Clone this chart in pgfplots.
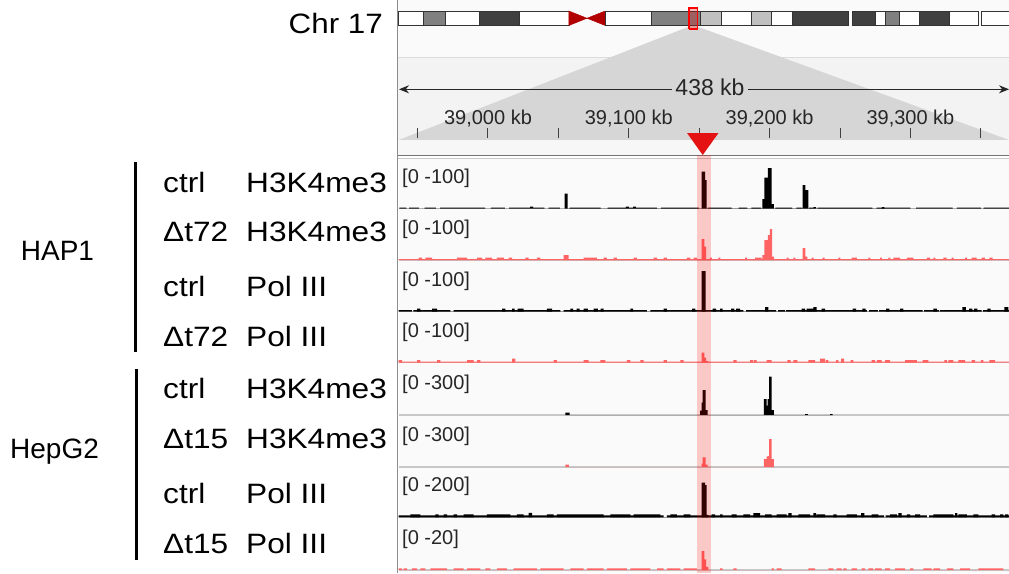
\documentclass[border=0pt]{standalone}
\usepackage{fontspec}
\setmainfont{Liberation Sans}
\usepackage{graphicx}
\usepackage{pgfplots}
\pgfplotsset{compat=1.18}
\usetikzlibrary{arrows.meta}

\definecolor{trkred}{RGB}{255,100,100}
\definecolor{cone}{RGB}{214,214,214}
\definecolor{panel}{RGB}{243,243,243}
\definecolor{trkbg}{RGB}{250,250,250}
\definecolor{bandg}{RGB}{128,128,128}
\definecolor{bandd}{RGB}{64,64,64}
\definecolor{bandl}{RGB}{192,192,192}
\definecolor{cen}{RGB}{178,0,0}
\definecolor{pointer}{RGB}{228,18,18}

\pgfplotsset{
  trk/.style={at={(398.7pt,-#1pt)}, anchor=south west, width=610.3pt, height=50pt,
    scale only axis, xmin=38936.6, xmax=39370, ymin=0, hide axis},
  bars/.style={const plot, fill=#1, draw=none, forget plot},
  band/.style={fill=#1, draw=black!80, line width=0.8pt, forget plot},
}
\tikzset{
  lab/.style={anchor=base west, inner sep=0pt, font=\fontsize{20}{24}\selectfont, text=black!85},
  row/.style={anchor=base west, inner sep=0pt, font=\fontsize{28}{32}\selectfont},
}
\newcommand\sx[1]{\scalebox{1.13}[1]{#1}}

\begin{document}
\begin{tikzpicture}[x=1pt,y=-1pt]
\useasboundingbox (0,0) rectangle (1009,573);
\fill[white] (0,0) rectangle (1009,573);

% ruler panel
\fill[black!2] (398,0) rectangle (1009,57);
\fill[panel] (398,57) rectangle (1009,155);
\draw[black!14] (398,57) -- (1009,57);
\fill[cone] (693,25) -- (398.7,140) -- (1009,140) -- cycle;
\fill[black!3] (398,140) rectangle (1009,155);

\node[anchor=base east, inner sep=0pt, font=\fontsize{28}{32}\selectfont] at (383,33) {\scalebox{1.12}[1]{Chr 17}};

% ideogram, chr17 in Mb
\begin{axis}[at={(398.7pt,-25.5pt)}, anchor=south west, width=610.3pt, height=14.5pt,
  scale only axis, xmin=0, xmax=81.2, ymin=0, ymax=1, hide axis, clip=false]
\addplot[band=white] coordinates {(0,1)(3.31,1)} \closedcycle;
\addplot[band=bandg] coordinates {(3.31,1)(6.20,1)} \closedcycle;
\addplot[band=white] coordinates {(6.20,1)(10.71,1)} \closedcycle;
\addplot[band=bandd] coordinates {(10.71,1)(16.02,1)} \closedcycle;
\addplot[band=white] coordinates {(16.02,1)(22.65,1)} \closedcycle;
\addplot[fill=cen, draw=cen] coordinates {(22.65,0)(22.65,1)(25.05,0.5)(22.65,0)};
\addplot[fill=cen, draw=cen] coordinates {(27.47,0)(27.47,1)(25.05,0.5)(27.47,0)};
\addplot[band=white] coordinates {(27.47,1)(33.62,1)} \closedcycle;
\addplot[band=bandg] coordinates {(33.62,1)(40.18,1)} \closedcycle;
\addplot[band=bandl] coordinates {(40.18,1)(42.96,1)} \closedcycle;
\addplot[band=white] coordinates {(42.96,1)(46.97,1)} \closedcycle;
\addplot[band=bandl] coordinates {(46.97,1)(49.59,1)} \closedcycle;
\addplot[band=white] coordinates {(49.59,1)(52.32,1)} \closedcycle;
\addplot[band=bandd] coordinates {(52.32,1)(59.89,1)} \closedcycle;
\addplot[band=bandd] coordinates {(60.30,1)(63.45,1)} \closedcycle;
\addplot[band=white] coordinates {(63.45,1)(64.82,1)} \closedcycle;
\addplot[band=bandg] coordinates {(64.82,1)(66.61,1)} \closedcycle;
\addplot[band=white] coordinates {(66.61,1)(69.23,1)} \closedcycle;
\addplot[band=bandd] coordinates {(69.23,1)(73.33,1)} \closedcycle;
\addplot[band=white] coordinates {(73.33,1)(77.12,1)} \closedcycle;
\addplot[band=white] coordinates {(77.47,1)(81.2,1)} \closedcycle;
% current view
\addplot[draw=red, line width=1.3pt, fill=red, fill opacity=0.25] coordinates {(38.61,-0.25)(38.61,1.2)(39.77,1.2)(39.77,-0.25)(38.61,-0.25)};
\end{axis}

% 438 kb span
\draw[black!85, line width=1pt, {Stealth[length=10pt,width=8pt]}-{Stealth[length=10pt,width=8pt]}] (399,89.3) -- (1009,89.3);
\node[fill=cone, inner sep=3pt, font=\fontsize{23}{26}\selectfont, text=black!85] at (710,87.5) {438 kb};

% ruler ticks (grid lines of a 10 pt high axis)
\begin{axis}[at={(398.7pt,-138pt)}, anchor=south west, width=610.3pt, height=10pt,
  scale only axis, xmin=38936.6, xmax=39370, ymin=0, ymax=1,
  axis line style={draw=none}, ytick=\empty, scaled x ticks=false,
  xtick={38950,39000,...,39350},
  xticklabels={,{39,000 kb},,{39,100 kb},,{39,200 kb},,{39,300 kb},},
  major tick length=0pt, xmajorgrids, grid style={draw=black!75, line width=1pt},
  xticklabel pos=upper,
  xticklabel style={inner sep=1pt, font=\fontsize{20}{24}\selectfont, text=black!85}]
\addplot[draw=none, forget plot] coordinates {(39000,0.5)};
\end{axis}

\fill[pointer] (687,133) -- (718.5,133) -- (702.7,155) -- cycle;
\draw[black!55, line width=1.5pt] (398,155.5) -- (1009,155.5);
\draw[black!22, line width=1pt] (398,158) -- (1009,158);

% tracks
\fill[trkbg] (398.5,158.6) rectangle (1009,573);
\foreach \b in {208.7,260,311.7,362.7,415,467,517.3,570}
  \draw[black!22, line width=1.3pt] (398.5,\b) -- (1009,\b);

% HAP1 ctrl H3K4me3
\begin{axis}[trk=208.7, ymax=100]
\addplot[bars=black] coordinates {(38937,2)(38942,0)(38944,2)(38951,0)(38955,2)(38963,0)(38966,2)(38998,0)(39002,2)(39012,0)(39015,2)(39030,4)(39032,2)(39040,0)(39043,2)(39051,0)(39058,2)(39080,0)(39085,2)(39098,4)(39100,2)(39103,4)(39105,2)(39120,0)(39123,2)(39150,0)(39156,2)(39173,0)(39178,2)(39184,0)(39187,2)(39194,0)(39204,2)(39216,0)(39219,2)(39223,0)(39228,2)(39231,0)(39234,2)(39273,0)(39276,2)(39300,0)(39304,2)(39330,0)(39333,2)(39350,0)(39352,2)(39370,0)} \closedcycle;
\addplot[bars=black] coordinates {(39054.5,30)(39056.5,0)(39151.8,74)(39154.2,57)(39155.3,0)(39194.8,19)(39196.2,62)(39198.7,81)(39201.5,9)(39203.1,0)(39223.5,47)(39225.4,37)(39227.5,0)(39231,3)(39233,0)(39279.8,3)(39281.5,0)} \closedcycle;
\end{axis}

% HAP1 dt72 H3K4me3
\begin{axis}[trk=260, ymax=100]
\addplot[bars=trkred] coordinates {(38936.6,2)(39370,2)} \closedcycle;
\addplot[bars=trkred] coordinates {(38950.8,5)(38953.2,0)(38955.5,5)(38960.3,0)(38978,5)(38985.1,0)(38992.2,5)(38995.8,0)(38998.1,5)(39002.9,0)(39006.4,5)(39011.2,0)(39014.7,5)(39017.1,0)(39026.5,5)(39028.9,0)(39034.8,5)(39037.2,0)(39068,5)(39077.4,0)(39082.2,5)(39084.5,0)(39089.3,5)(39091.6,0)(39103.5,5)(39105.8,0)(39117.7,5)(39120.1,0)(39124.8,5)(39127.1,0)(39141.3,5)(39143.7,0)(39146.1,5)(39148.4,0)(39157.7,5)(39159,0)(39163.6,5)(39165,0)(39182.6,5)(39184,0)(39189.7,5)(39194.4,0)(39212.1,5)(39213.5,0)(39216.9,5)(39218.3,0)(39229.9,5)(39231.3,0)(39237.7,5)(39239,0)(39248.8,5)(39250.2,0)(39258.3,5)(39261.9,0)(39270.1,5)(39271.5,0)(39278.4,5)(39279.8,0)(39284.3,5)(39285.7,0)(39287.9,5)(39292.6,0)(39297.4,5)(39302.1,0)(39311.6,5)(39314,0)(39316.3,5)(39317.7,0)(39323.4,5)(39325.7,0)(39329.3,5)(39330.7,0)(39338.8,5)(39340.2,0)(39343.5,5)(39347,0)(39350.6,5)(39352.9,0)(39356.1,5)(39358.4,0)} \closedcycle;
\addplot[bars=trkred] coordinates {(39053.8,10)(39057.3,0)(39151.8,42)(39153.7,27)(39154.9,0)(39194.9,10)(39196.3,40)(39198.7,50)(39200.1,62)(39201.7,7)(39203.1,0)(39223.5,24)(39225.4,7)(39226.8,0)} \closedcycle;
\end{axis}

% HAP1 ctrl Pol III
\begin{axis}[trk=311.7, ymax=100]
\addplot[bars=black] coordinates {(38936.6,3)(38946,0)(38947,3)(38973.3,0)(38975.6,3)(39051.4,0)(39053.8,3)(39112.9,0)(39115.3,3)(39181.4,0)(39183.3,3)(39204.6,0)(39206,3)(39211,0)(39211.7,3)(39269,0)(39270.6,3)(39276.8,0)(39277.7,3)(39308.7,0)(39309.7,3)(39320.3,0)(39321,3)(39350.6,0)(39351.6,3)(39370,0)} \closedcycle;
\addplot[bars=black] coordinates {(38949.6,6)(38952,0)(38960.3,6)(38963.8,0)(39010,6)(39012.3,0)(39017.1,6)(39019,0)(39021,6)(39025.3,0)(39041.9,6)(39045.5,0)(39058.5,6)(39060.5,0)(39063,6)(39065,0)(39068,6)(39071,0)(39075,6)(39078,0)(39080,6)(39082.2,0)(39101.1,6)(39103,0)(39124.8,6)(39127.1,0)(39144.9,6)(39147.2,0)(39159.6,6)(39162,0)(39164.8,6)(39166.7,0)(39172.6,6)(39175,0)(39176.2,6)(39179,0)(39196.8,9)(39199.1,0)(39222.8,6)(39225.2,0)(39226.3,6)(39231,9)(39233.4,0)(39237,6)(39239.4,0)(39259,6)(39261.4,0)(39265.9,6)(39268.2,0)(39282.7,6)(39285,0)(39292.6,6)(39295,0)(39316.3,6)(39318.7,0)(39336.9,9)(39339.3,0)(39341.6,6)(39344,0)(39345.2,6)(39347.5,0)(39354.6,6)(39357,0)(39366.7,9)(39369.5,0)} \closedcycle;
\addplot[bars=black] coordinates {(39151.8,81)(39154.6,0)} \closedcycle;
\end{axis}

% HAP1 dt72 Pol III
\begin{axis}[trk=362.7, ymax=100]
\addplot[bars=trkred] coordinates {(38936.6,2)(39370,2)} \closedcycle;
\addplot[bars=trkred] coordinates {(38936.6,5)(38939,0)(38949.6,5)(38952,0)(38963.8,5)(38966.2,0)(38985.1,5)(38989.8,0)(38992.2,5)(38994.6,0)(39017.1,8)(39019.4,0)(39046.6,5)(39049,0)(39068,5)(39071.5,0)(39079.8,5)(39083.3,0)(39098.7,5)(39101.1,0)(39108.2,5)(39110.6,0)(39124.8,5)(39127.1,0)(39136.6,5)(39139,0)(39174.3,5)(39176.6,0)(39186.1,5)(39188.5,0)(39189,5)(39190.8,0)(39197.9,5)(39201.5,0)(39212.6,5)(39215,0)(39216.9,5)(39219.7,0)(39227.5,5)(39232.3,0)(39235.8,8)(39239.4,0)(39240,5)(39241.7,0)(39247.2,5)(39248.8,0)(39250.7,8)(39252.9,0)(39257.6,5)(39259.5,0)(39272.5,5)(39274.9,0)(39276.1,5)(39279.6,0)(39282,5)(39285.5,0)(39296.2,5)(39304.5,0)(39308.7,5)(39312.7,0)(39324.1,5)(39325.8,0)(39327,5)(39330.5,0)(39334.1,5)(39338.8,0)(39343.5,5)(39345.9,0)(39350.1,5)(39351.8,0)(39356.1,5)(39360.1,0)} \closedcycle;
\addplot[bars=trkred] coordinates {(39151.8,20)(39153.7,10)(39154.9,3)(39156.5,0)} \closedcycle;
\end{axis}

% HepG2 ctrl H3K4me3
\begin{axis}[trk=415, ymax=300]
\addplot[bars=black] coordinates {(39054.9,14)(39058,0)(39150.6,26)(39151.8,74)(39152.5,150)(39154.6,30)(39156,0)(39196,96)(39197.9,56)(39198.6,96)(39199.6,230)(39201.5,30)(39203.1,0)(39225.2,6)(39227.1,0)(39242.9,6)(39244.8,0)} \closedcycle;
\end{axis}

% HepG2 dt15 H3K4me3
\begin{axis}[trk=467, ymax=300]
\addplot[bars=trkred] coordinates {(39054.9,15)(39057.5,0)(39151.8,20)(39152.5,58)(39154.6,15)(39156,0)(39196,48)(39197.9,62)(39198.6,66)(39199.6,168)(39201.5,48)(39203.1,0)} \closedcycle;
\end{axis}

% HepG2 ctrl Pol III
\begin{axis}[trk=517.3, ymax=200]
\addplot[bars=black] coordinates {(38936.6,8)(39124.8,0)(39127.1,8)(39281.3,0)(39282.4,8)(39311.6,0)(39313.2,8)(39370,0)} \closedcycle;
\addplot[bars=black] coordinates {(38944.9,12)(38952,0)(38962.6,12)(38965,0)(38968.5,12)(38970.9,0)(38975.6,12)(38978,0)(38982.7,12)(38989.8,0)(38999.3,12)(39015.9,0)(39020.6,12)(39025.3,0)(39028.9,18)(39031.3,0)(39041.9,12)(39046.6,0)(39049,12)(39082.2,0)(39086.9,12)(39101.1,0)(39103.5,12)(39122.4,0)(39129.5,12)(39134.2,0)(39139,12)(39143.7,0)(39158.9,12)(39161.3,0)(39164.8,12)(39166.7,0)(39173.1,12)(39176.6,0)(39181.4,12)(39186.1,0)(39188.5,17)(39193.2,0)(39196.8,12)(39201.5,0)(39205,12)(39212.1,0)(39213.3,17)(39215.7,0)(39220.4,12)(39228.7,0)(39231,17)(39233,0)(39233.4,12)(39239.4,0)(39245.3,12)(39247.6,0)(39254.7,12)(39261.9,0)(39264.9,17)(39267.3,0)(39272.5,12)(39277.2,0)(39285.5,12)(39290.3,0)(39291.4,17)(39293.8,0)(39297.4,12)(39299.7,0)(39303.3,12)(39306.8,0)(39316.3,12)(39330.5,0)(39331.7,17)(39333.3,0)(39334.1,12)(39340,0)(39344.7,12)(39348.2,0)(39357.7,12)(39360.1,0)(39363.6,12)(39366,0)(39367.2,12)(39369.5,0)} \closedcycle;
\addplot[bars=black] coordinates {(39151.8,139)(39154.2,129)(39155.3,10)(39156.5,0)} \closedcycle;
\end{axis}

% HepG2 dt15 Pol III
\begin{axis}[trk=570, ymax=20]
\addplot[bars=trkred] coordinates {(38936.6,0.7)(38939,0)(38940.1,0.7)(38942.5,0)(38946,0.7)(38949.6,0)(38952,0.7)(38955.5,0)(38959.1,0.7)(38970.9,0)(38975.6,0.7)(38982.7,0)(38985.1,0.7)(38994.6,0)(38998.1,0.7)(39001.7,0)(39006.4,0.7)(39013.5,0)(39018.2,0.7)(39034.8,0)(39037.2,0.7)(39053.8,0)(39058.5,0.7)(39068,0)(39070.3,0.7)(39082.2,0)(39084.5,0.7)(39098.7,0)(39101.1,0.7)(39115.3,0)(39120.1,0.7)(39124.8,0)(39127.1,0.7)(39136.6,0)(39139,0.7)(39148.4,0)(39164.8,0.7)(39166.7,0)(39174.3,0.7)(39176.6,0)(39201.5,0.7)(39203.1,0)(39205,0.7)(39208.6,0)(39227.5,0.7)(39232.3,0)(39241.7,0.7)(39245.3,0)(39247.6,0.7)(39251.2,0)(39252.4,0.7)(39254.7,0)(39258.3,0.7)(39261.9,0)(39265.4,0.7)(39267.8,0)(39270.1,0.7)(39273.7,0)(39274.9,0.7)(39279.6,0)(39282,0.7)(39285.5,0)(39289.1,0.7)(39296.2,0)(39299.7,0.7)(39302.1,0)(39309.2,0.7)(39315.1,0)(39316.3,0.7)(39321,0)(39325.8,0.7)(39330.5,0)(39335.2,0.7)(39342.3,0)(39348.2,0.7)(39366,0)} \closedcycle;
\addplot[bars=trkred] coordinates {(39151.8,7.6)(39153.7,4.3)(39154.9,1.3)(39156.5,0)} \closedcycle;
\end{axis}

% data range labels
\node[lab] at (402,183.2) {[0 -100]};
\node[lab] at (402,234.5) {[0 -100]};
\node[lab] at (402,286.2) {[0 -100]};
\node[lab] at (402,337.2) {[0 -100]};
\node[lab] at (402,389.5) {[0 -300]};
\node[lab] at (402,441.5) {[0 -300]};
\node[lab] at (402,491.8) {[0 -200]};
\node[lab] at (402,544.5) {[0 -20]};

% highlighted region
\fill[red, opacity=0.2] (697,155) rectangle (711,573);
\draw[black!45, line width=1.2pt] (397.8,0) -- (397.8,573);

% sample labels
\node[row] at (20.7,260) {HAP1};
\node[row] at (10,458) {HepG2};
\draw[line width=2.5pt] (135.7,162) -- (135.7,352);
\draw[line width=2.5pt] (136.3,369) -- (136.3,560);
\foreach \y/\a/\b in {192.7/ctrl/H3K4me3, 241.5/Δt72/H3K4me3, 296.5/ctrl/Pol III, 346/Δt72/Pol III,
                      398/ctrl/H3K4me3, 448.5/Δt15/H3K4me3, 503/ctrl/Pol III, 553/Δt15/Pol III} {
  \node[row] at (163,\y) {\sx{\a}};
  \node[row] at (246,\y) {\sx{\b}};
}
\end{tikzpicture}
\end{document}
